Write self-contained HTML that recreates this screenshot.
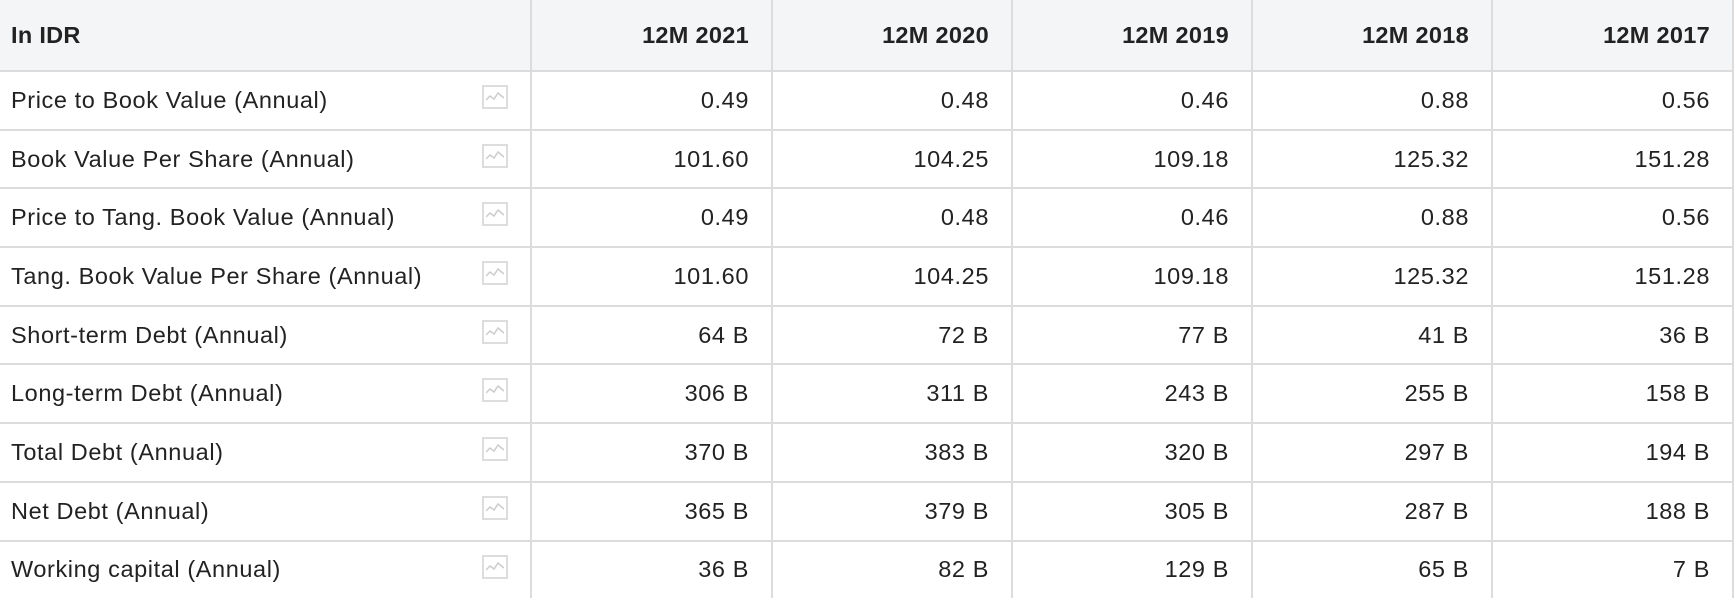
<!DOCTYPE html>
<html><head><style>
body{margin:0;width:1736px;height:596px;overflow:hidden;background:#fff;font-family:"Liberation Sans",sans-serif;color:#222}
table{border-collapse:collapse;table-layout:fixed;width:1733px}
td,th{border:2px solid #dcdcdc;height:56.7px;padding:0 22px 0 11px;font-size:23.5px;letter-spacing:0.6px;text-align:right;white-space:nowrap}
th{height:70px;background:#f4f5f6;font-weight:bold;border-top:none;letter-spacing:0.3px}
th:first-child,td:first-child{text-align:left;border-left:none;position:relative}
tr:last-child td{border-bottom:none}
.ic{position:absolute;left:482px;top:13px;width:26px;height:24px;border:2px solid #ddd;box-sizing:border-box}
.ic svg{position:absolute;left:2px;top:4px}
</style></head><body>
<table>
<colgroup><col style="width:531px"><col style="width:241px"><col style="width:240px"><col style="width:240px"><col style="width:240px"><col style="width:241px"></colgroup>
<tr><th>In IDR</th><th>12M 2021</th><th>12M 2020</th><th>12M 2019</th><th>12M 2018</th><th>12M 2017</th></tr>
<tr><td>Price to Book Value (Annual)<span class="ic"><svg width="18" height="12"><polyline points="0,9 4,5 8,8 12,2 18,7" fill="none" stroke="#ccc" stroke-width="1.5"/></svg></span></td><td>0.49</td><td>0.48</td><td>0.46</td><td>0.88</td><td>0.56</td></tr>
<tr><td>Book Value Per Share (Annual)<span class="ic"><svg width="18" height="12"><polyline points="0,9 4,5 8,8 12,2 18,7" fill="none" stroke="#ccc" stroke-width="1.5"/></svg></span></td><td>101.60</td><td>104.25</td><td>109.18</td><td>125.32</td><td>151.28</td></tr>
<tr><td>Price to Tang. Book Value (Annual)<span class="ic"><svg width="18" height="12"><polyline points="0,9 4,5 8,8 12,2 18,7" fill="none" stroke="#ccc" stroke-width="1.5"/></svg></span></td><td>0.49</td><td>0.48</td><td>0.46</td><td>0.88</td><td>0.56</td></tr>
<tr><td>Tang. Book Value Per Share (Annual)<span class="ic"><svg width="18" height="12"><polyline points="0,9 4,5 8,8 12,2 18,7" fill="none" stroke="#ccc" stroke-width="1.5"/></svg></span></td><td>101.60</td><td>104.25</td><td>109.18</td><td>125.32</td><td>151.28</td></tr>
<tr><td>Short-term Debt (Annual)<span class="ic"><svg width="18" height="12"><polyline points="0,9 4,5 8,8 12,2 18,7" fill="none" stroke="#ccc" stroke-width="1.5"/></svg></span></td><td>64 B</td><td>72 B</td><td>77 B</td><td>41 B</td><td>36 B</td></tr>
<tr><td>Long-term Debt (Annual)<span class="ic"><svg width="18" height="12"><polyline points="0,9 4,5 8,8 12,2 18,7" fill="none" stroke="#ccc" stroke-width="1.5"/></svg></span></td><td>306 B</td><td>311 B</td><td>243 B</td><td>255 B</td><td>158 B</td></tr>
<tr><td>Total Debt (Annual)<span class="ic"><svg width="18" height="12"><polyline points="0,9 4,5 8,8 12,2 18,7" fill="none" stroke="#ccc" stroke-width="1.5"/></svg></span></td><td>370 B</td><td>383 B</td><td>320 B</td><td>297 B</td><td>194 B</td></tr>
<tr><td>Net Debt (Annual)<span class="ic"><svg width="18" height="12"><polyline points="0,9 4,5 8,8 12,2 18,7" fill="none" stroke="#ccc" stroke-width="1.5"/></svg></span></td><td>365 B</td><td>379 B</td><td>305 B</td><td>287 B</td><td>188 B</td></tr>
<tr><td>Working capital (Annual)<span class="ic"><svg width="18" height="12"><polyline points="0,9 4,5 8,8 12,2 18,7" fill="none" stroke="#ccc" stroke-width="1.5"/></svg></span></td><td>36 B</td><td>82 B</td><td>129 B</td><td>65 B</td><td>7 B</td></tr>
</table>
</body></html>
